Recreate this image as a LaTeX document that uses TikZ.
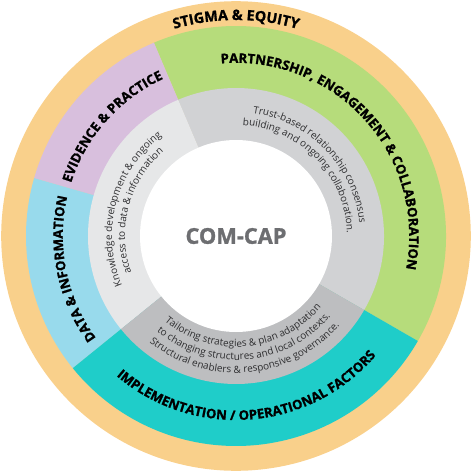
\documentclass[tikz,border=0pt]{standalone}
\usepackage{fontspec}
\setmainfont{Open Sans}[BoldFeatures={FakeBold=1.2}]
\usetikzlibrary{decorations.text}

\definecolor{stigma}{HTML}{F9D08B}
\definecolor{partner}{HTML}{B6DC7B}
\definecolor{evidence}{HTML}{D8BFDD}
\definecolor{datainfo}{HTML}{98DAEC}
\definecolor{implement}{HTML}{1FCDC9}
\definecolor{greyA}{HTML}{D1D2D4}
\definecolor{greyB}{HTML}{E6E7E8}
\definecolor{greyC}{HTML}{BDBEC0}
\definecolor{comcap}{HTML}{6D6E71}
\definecolor{notegrey}{HTML}{2E2E30}

\newcommand{\bandfont}{\fontsize{9.4}{11}\selectfont\bfseries}
\newcommand{\topfont}{\fontsize{10.2}{12}\selectfont\bfseries}
\newcommand{\notesfont}{\fontsize{7.1}{8}\selectfont}

\tikzset{
  ringlabel/.style={decorate, decoration={text along path, text align=center,
      text={|\bandfont|#1}}},
  noteline/.style={decorate, decoration={text along path, text align=center,
      text color=notegrey, text={|\notesfont|#1}}}
}

\begin{document}
\begin{tikzpicture}
    \useasboundingbox (-5.9,-5.9) rectangle (5.9,5.9);

    % outer band
    \fill[stigma] (0,0) circle (5.87);

    % coloured sectors
    \fill[partner] (0,0) -- (-30:5.25) arc[start angle=-30, end angle=113, radius=5.25] -- cycle;
    \fill[evidence] (0,0) -- (113:5.25) arc[start angle=113, end angle=164, radius=5.25] -- cycle;
    \fill[datainfo] (0,0) -- (164:5.25) arc[start angle=164, end angle=219, radius=5.25] -- cycle;
    \fill[implement] (0,0) -- (219:5.25) arc[start angle=219, end angle=330, radius=5.25] -- cycle;

    % grey ring
    \fill[greyA] (0,0) -- (-30:3.7) arc[start angle=-30, end angle=113, radius=3.7] -- cycle;
    \fill[greyB] (0,0) -- (113:3.7) arc[start angle=113, end angle=219, radius=3.7] -- cycle;
    \fill[greyC] (0,0) -- (219:3.7) arc[start angle=219, end angle=330, radius=3.7] -- cycle;

    \fill[white] (0,0) circle (2.4);
    \node[text=comcap, font=\fontsize{15.5}{18}\selectfont\bfseries] (core) at (0,0) {COM-CAP};

    % band labels
    \path[decorate, decoration={text along path, text align=center, text={|\topfont|STIGMA {\&} EQUITY}}]
        (180:5.4) arc[start angle=180, end angle=0, radius=5.4];
    \path[ringlabel={PARTNERSHIP, ENGAGEMENT {\&} COLLABORATION}] (132:4.33) arc[start angle=132, end angle=-48, radius=4.33];
    \path[ringlabel={EVIDENCE {\&} PRACTICE}] (228.5:4.33) arc[start angle=228.5, end angle=48.5, radius=4.33];
    \path[ringlabel={DATA {\&} INFORMATION}] (281.5:4.33) arc[start angle=281.5, end angle=101.5, radius=4.33];
    \path[ringlabel={IMPLEMENTATION / OPERATIONAL FACTORS}] (184.5:4.6) arc[start angle=184.5, end angle=364.5, radius=4.6];

    % grey ring notes
    \path[noteline={Trust-based relationship consensus}] (134:3.1) arc[start angle=134, end angle=-46, radius=3.1];
    \path[noteline={building and ongoing collaboration.}] (134:2.775) arc[start angle=134, end angle=-46, radius=2.775];
    \path[noteline={Knowledge development {\&} ongoing}] (255:3.1) arc[start angle=255, end angle=75, radius=3.1];
    \path[noteline={access to data {\&} information}] (255:2.775) arc[start angle=255, end angle=75, radius=2.775];
    \path[noteline={Tailoring strategies {\&} plan adaptation}] (185:2.775) arc[start angle=185, end angle=365, radius=2.775];
    \path[noteline={to changing structures and local contexts.}] (185:3.1) arc[start angle=185, end angle=365, radius=3.1];
    \path[noteline={Structural enablers {\&} responsive governance.}] (185:3.425) arc[start angle=185, end angle=365, radius=3.425];

\end{tikzpicture}
\end{document}
